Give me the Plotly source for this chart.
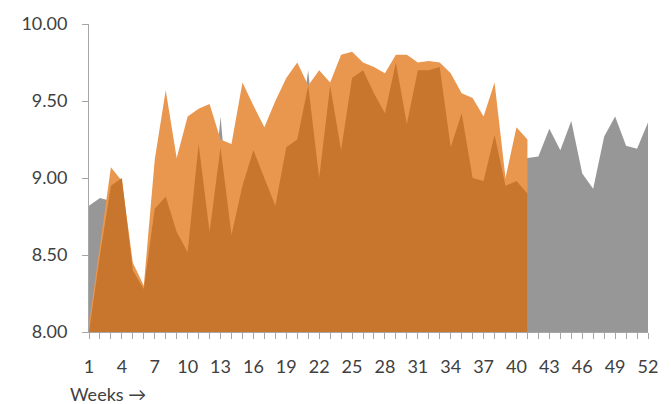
import plotly.graph_objects as go

weeks = list(range(1, 53))
tick_weeks = list(range(1, 53, 3))

# Prior year, full 52 weeks (grey, drawn at the back)
prior_year = [8.82, 8.87, 8.85, 8.90, 8.40, 8.25, 8.75, 8.85, 8.60, 8.50,
              9.10, 8.60, 9.40, 8.60, 8.90, 9.10, 8.95, 8.80, 9.15, 9.20,
              9.70, 8.95, 9.55, 9.10, 9.60, 9.65, 9.50, 9.35, 9.70, 9.30,
              9.65, 9.65, 9.65, 9.15, 9.40, 8.95, 8.95, 9.25, 8.98, 9.00,
              9.13, 9.14, 9.32, 9.18, 9.37, 9.03, 8.93, 9.27, 9.40, 9.21,
              9.19, 9.36]

# Current year, upper band (light orange)
upper = [8.05, 8.55, 9.07, 8.98, 8.45, 8.30, 9.12, 9.57, 9.13, 9.40,
         9.45, 9.48, 9.25, 9.22, 9.62, 9.47, 9.33, 9.50, 9.65, 9.75,
         9.60, 9.70, 9.62, 9.80, 9.82, 9.75, 9.72, 9.68, 9.80, 9.80,
         9.75, 9.76, 9.75, 9.68, 9.55, 9.52, 9.40, 9.62, 9.00, 9.33,
         9.25]

# Current year, lower band (dark orange, drawn in front)
lower = [8.00, 8.50, 8.95, 9.00, 8.40, 8.28, 8.80, 8.88, 8.65, 8.52,
         9.22, 8.65, 9.20, 8.63, 8.95, 9.18, 9.00, 8.82, 9.20, 9.25,
         9.60, 9.00, 9.60, 9.18, 9.65, 9.70, 9.55, 9.42, 9.75, 9.35,
         9.70, 9.70, 9.72, 9.20, 9.42, 9.00, 8.98, 9.28, 8.95, 8.98,
         8.90]

GREY = "#979797"
LIGHT = "#E9974F"
DARK = "#C8762D"
AXIS = "#A6A6A6"
TEXT = "#404040"

fig = go.Figure()
fig.add_trace(go.Scatter(x=weeks, y=prior_year, mode="lines", fill="tozeroy",
                         line=dict(width=0, color=GREY), fillcolor=GREY,
                         hoverinfo="x+y"))
fig.add_trace(go.Scatter(x=weeks[:len(upper)], y=upper, mode="lines", fill="tozeroy",
                         line=dict(width=0, color=LIGHT), fillcolor=LIGHT,
                         hoverinfo="x+y"))
fig.add_trace(go.Scatter(x=weeks[:len(lower)], y=lower, mode="lines", fill="tozeroy",
                         line=dict(width=0, color=DARK), fillcolor=DARK,
                         hoverinfo="x+y"))

fig.update_layout(
    width=671, height=404,
    margin=dict(l=89, r=23, t=18, b=72),
    paper_bgcolor="white", plot_bgcolor="white",
    showlegend=False,
    font=dict(family="Lato", size=18, color=TEXT),
)
fig.update_xaxes(
    range=[1, 52],
    tickmode="array", tickvals=tick_weeks, ticktext=[str(w) for w in tick_weeks],
    ticks="outside", ticklen=6, tickcolor=AXIS, tickwidth=1,
    minor=dict(tickmode="array", tickvals=weeks, ticks="outside",
               ticklen=6, tickcolor=AXIS),
    showline=True, linecolor=AXIS, linewidth=1,
    showgrid=False, zeroline=False,
    ticklabelstandoff=12,
)
fig.update_yaxes(
    range=[8, 10], dtick=0.5, tickformat=".2f",
    ticks="outside", ticklen=6, tickcolor=AXIS,
    showline=True, linecolor=AXIS, linewidth=1,
    showgrid=False, zeroline=False,
    ticklabelstandoff=11,
)
fig.add_annotation(text="Weeks →", xref="paper", yref="paper",
                   x=-0.0376, y=-0.159, xanchor="left", yanchor="top",
                   showarrow=False, font=dict(family="Lato", size=18, color=TEXT))

fig.write_html("out.html")
